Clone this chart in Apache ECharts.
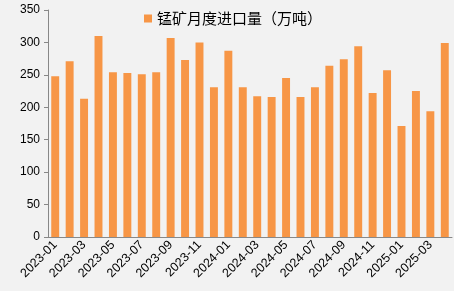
<!DOCTYPE html>
<html lang="zh">
<head>
<meta charset="UTF-8">
<title>锰矿月度进口量</title>
<script src="https://cdn.jsdelivr.net/npm/echarts@6/dist/echarts.min.js"></script>
<style>
  html, body { margin: 0; padding: 0; background: #f2f2f2; }
  #chart { width: 454px; height: 291px; }
</style>
</head>
<body>
<div id="chart"></div>
<script>
// 月份
var months = [
  '2023-01', '2023-02', '2023-03', '2023-04', '2023-05', '2023-06', '2023-07',
  '2023-08', '2023-09', '2023-10', '2023-11', '2023-12', '2024-01', '2024-02',
  '2024-03', '2024-04', '2024-05', '2024-06', '2024-07', '2024-08', '2024-09',
  '2024-10', '2024-11', '2024-12', '2025-01', '2025-02', '2025-03', '2025-04'
];
// 进口量（万吨）
var imports = [
  248, 271, 213, 310, 254, 253, 251,
  254, 307, 273, 300, 231, 287, 231,
  217, 216, 245, 216, 231, 264, 274,
  294, 222, 257, 171, 225, 194, 299
];
var seriesName = '锰矿月度进口量（万吨）';

var chart = echarts.init(document.getElementById('chart'));
var option = {
  backgroundColor: '#f2f2f2',
  animation: false,
  legend: {
    top: 6,
    left: 139,
    icon: 'rect',
    itemWidth: 8,
    itemHeight: 8,
    itemGap: 5,
    textStyle: { fontFamily: 'Noto Sans CJK SC', fontSize: 15, color: '#000' },
    data: [seriesName]
  },
  grid: { left: 48, right: 2, top: 10, bottom: 54 },
  xAxis: {
    type: 'category',
    data: months,
    axisLine: { lineStyle: { color: '#888', width: 1 } },
    axisTick: { interval: 1, length: 4, lineStyle: { color: '#888' } },
    axisLabel: {
      interval: 1,
      rotate: 45,
      margin: 6,
      fontFamily: 'Liberation Sans',
      fontSize: 12.5,
      color: '#000'
    }
  },
  yAxis: {
    type: 'value',
    min: 0,
    max: 350,
    interval: 50,
    splitLine: { show: false },
    axisLine: { show: true, lineStyle: { color: '#888', width: 1 } },
    axisTick: { show: true, length: 4, lineStyle: { color: '#888' } },
    axisLabel: { fontFamily: 'Liberation Sans', fontSize: 12, color: '#000', margin: 8 }
  },
  series: [{
    name: seriesName,
    type: 'bar',
    data: imports,
    barWidth: '55%',
    itemStyle: { color: '#f79646' }
  }]
};
chart.setOption(option);
</script>
</body>
</html>
